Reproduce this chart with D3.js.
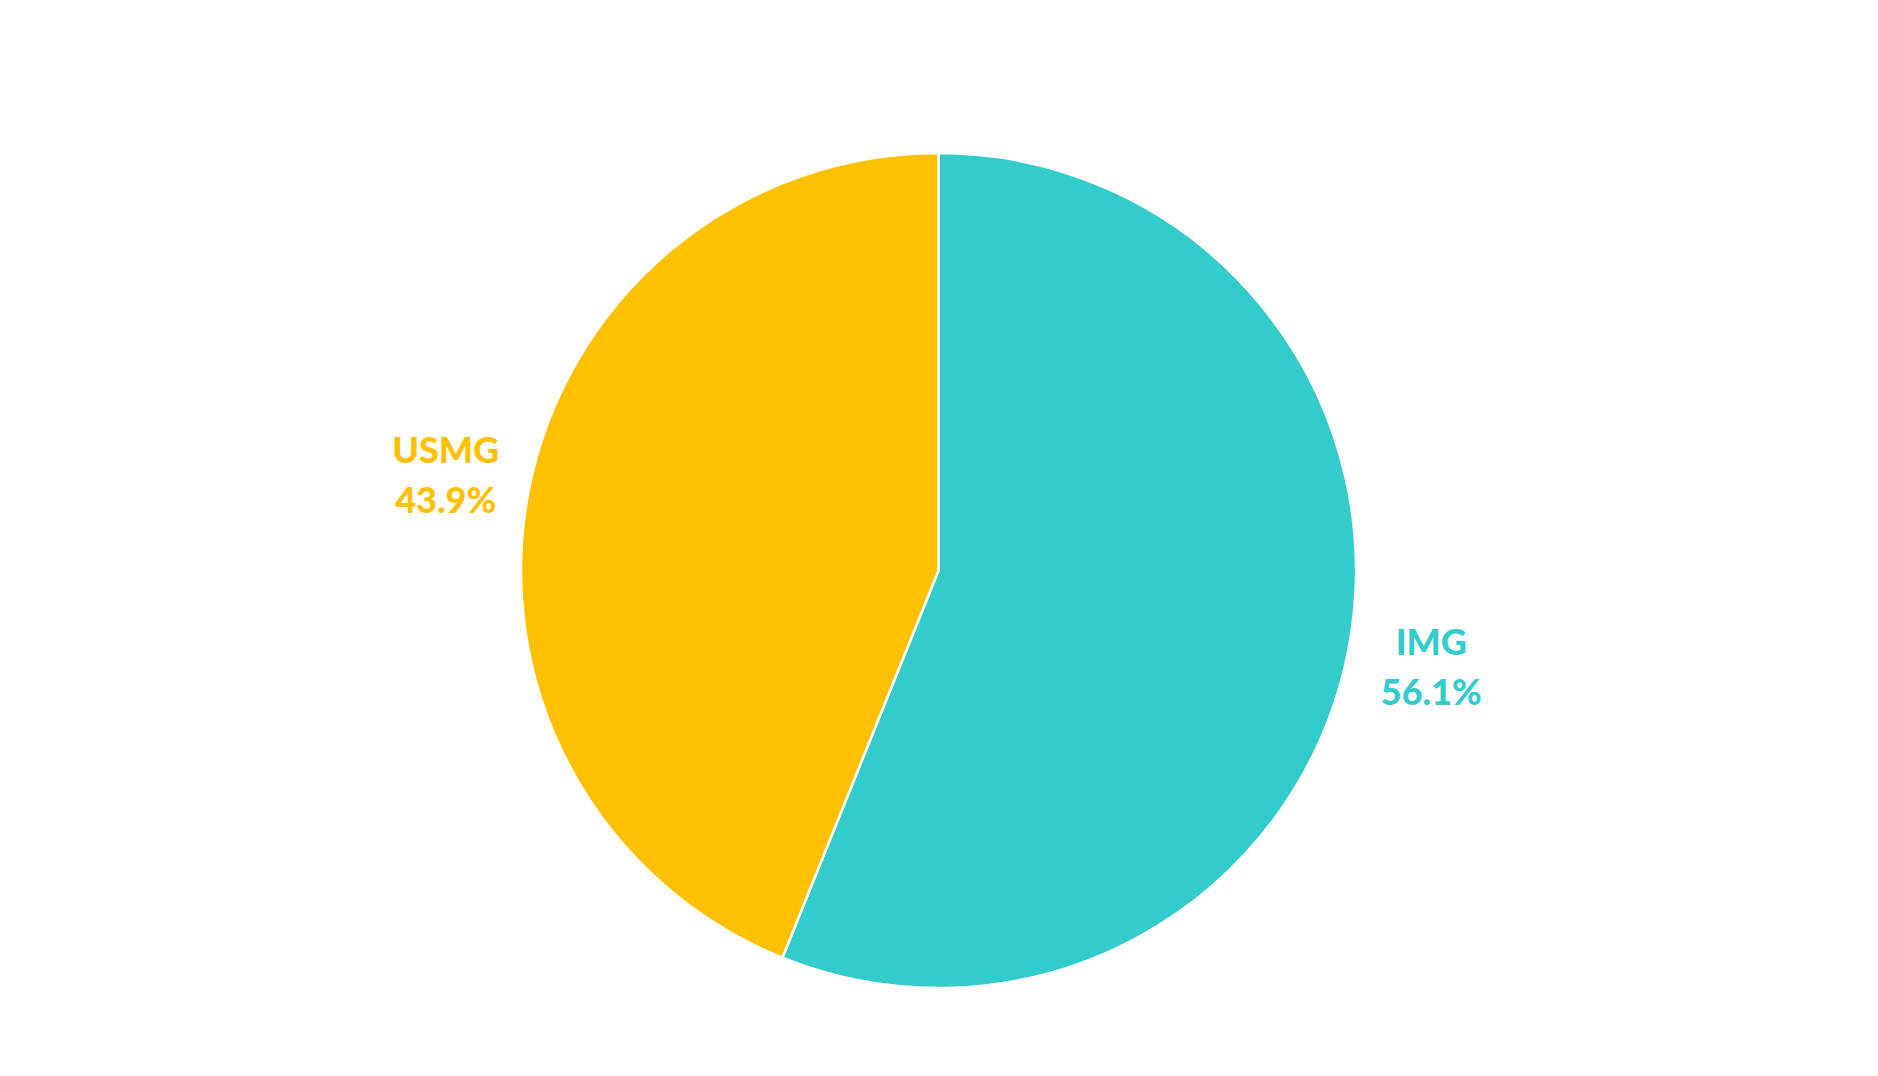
<!DOCTYPE html>
<html><head><meta charset="utf-8">
<script src="https://cdn.jsdelivr.net/npm/d3@7"></script>
<style>html,body{margin:0;padding:0;background:#fff;}</style>
</head><body>
<svg id="chart" width="1878" height="1076"></svg>
<script>
const categories = ["IMG", "USMG"];
const values = [56.1, 43.9];
const colors = ["#33CCCC", "#FFC000"];

const svg = d3.select("#chart");
const cx = 938.5, cy = 570.5, r = 417.5, labelR = 502;
const g = svg.append("g").attr("transform", `translate(${cx},${cy})`);
const data = categories.map((c, i) => ({cat: c, value: values[i], color: colors[i]}));
const pie = d3.pie().value(d => d.value).sort(null);
const arc = d3.arc().innerRadius(0).outerRadius(r);
const labelArc = d3.arc().innerRadius(labelR).outerRadius(labelR);
const arcs = pie(data);

g.selectAll("path").data(arcs).join("path")
  .attr("d", arc).attr("fill", d => d.data.color)
  .attr("stroke", "#fff").attr("stroke-width", 2.5).attr("stroke-linejoin", "round");

const lbl = g.selectAll("g.lbl").data(arcs).join("g").attr("class", "lbl")
  .attr("transform", d => `translate(${labelArc.centroid(d)})`);
lbl.append("text").attr("text-anchor", "middle").attr("y", -11.5)
  .attr("font-family", "Lato, 'Open Sans', sans-serif").attr("font-weight", 900)
  .attr("font-size", 36).attr("fill", d => d.data.color).text(d => d.data.cat);
lbl.append("text").attr("text-anchor", "middle").attr("y", 38.5)
  .attr("font-family", "Lato, 'Open Sans', sans-serif").attr("font-weight", 900)
  .attr("font-size", 36).attr("fill", d => d.data.color).text(d => d.data.value.toFixed(1) + "%");
</script>
</body></html>
